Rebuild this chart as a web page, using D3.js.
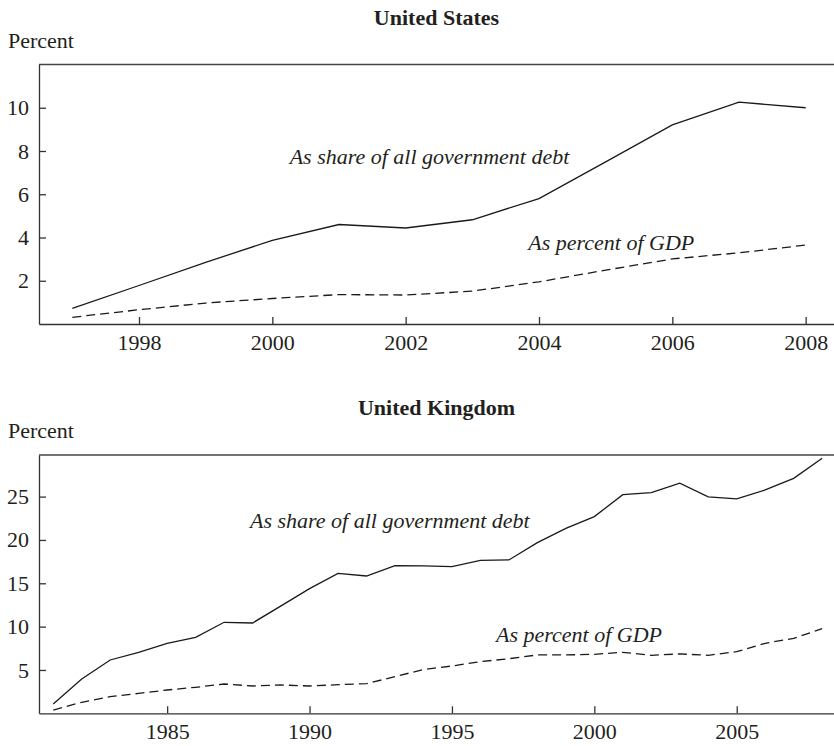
<!DOCTYPE html>
<html>
<head>
<meta charset="utf-8">
<script src="https://cdn.jsdelivr.net/npm/d3@7"></script>
<style>
  body { margin: 0; background: #fff; }
  svg { display: block; font-family: "Liberation Serif", "Times New Roman", serif; }
  .axis path, .axis line { stroke: #333; stroke-width: 1.3; }
  .axis text { font-size: 22px; fill: #231f20; font-family: "Liberation Serif", "Times New Roman", serif; }
</style>
</head>
<body>
<div id="chart"></div>
<script>
// United States, 1997-2008
const usYears = [1997, 1998, 1999, 2000, 2001, 2002, 2003, 2004, 2005, 2006, 2007, 2008];
const usShare = [0.72, 1.78, 2.85, 3.87, 4.6, 4.44, 4.82, 5.8, 7.5, 9.21, 10.26, 10.0];
const usGdp   = [0.31, 0.66, 0.97, 1.18, 1.36, 1.34, 1.52, 1.95, 2.49, 3.01, 3.29, 3.65];
const usXTicks = [1998, 2000, 2002, 2004, 2006, 2008];
const usYTicks = [2, 4, 6, 8, 10];

// United Kingdom, 1981-2008
const ukYears = d3.range(1981, 2009);
const ukShare = [1.07, 3.96, 6.15, 7.04, 8.08, 8.77, 10.5, 10.42, 12.4, 14.38, 16.15, 15.84,
                 17.03, 17.0, 16.92, 17.65, 17.69, 19.69, 21.34, 22.69, 25.23, 25.46, 26.54,
                 24.96, 24.73, 25.77, 27.11, 29.42];
const ukGdp   = [0.38, 1.27, 1.92, 2.3, 2.69, 3.0, 3.38, 3.15, 3.27, 3.15, 3.3, 3.42,
                 4.23, 5.05, 5.46, 5.96, 6.3, 6.73, 6.73, 6.8, 7.04, 6.69, 6.85,
                 6.69, 7.11, 8.08, 8.65, 9.76];
const ukXTicks = [1985, 1990, 1995, 2000, 2005];
const ukYTicks = [5, 10, 15, 20, 25];

const seriesNames = ["As share of all government debt", "As percent of GDP"];

const width = 834, height = 746;

const svg = d3.select("#chart")
  .append("svg")
    .attr("width", width)
    .attr("height", height);

function drawPanel(opts) {
  const x = d3.scaleLinear().domain(opts.xDomain).range([39, opts.xRight]);
  const y = d3.scaleLinear().domain(opts.yDomain).range([opts.bottom, opts.top]);

  const g = svg.append("g");

  g.append("text")
    .attr("x", (39 + width) / 2)
    .attr("y", opts.titleY)
    .attr("text-anchor", "middle")
    .style("font-size", "22px")
    .style("font-weight", "bold")
    .attr("fill", "#231f20")
    .text(opts.title);

  g.append("text")
    .attr("x", 8)
    .attr("y", opts.percentY)
    .style("font-size", "22px")
    .attr("fill", "#231f20")
    .text("Percent");

  // top frame line
  g.append("line")
    .attr("x1", 39).attr("x2", width)
    .attr("y1", opts.top).attr("y2", opts.top)
    .attr("stroke", "#444")
    .attr("stroke-width", 1.5);

  g.append("g")
    .attr("class", "axis")
    .attr("transform", `translate(39,0)`)
    .call(d3.axisLeft(y).tickValues(opts.yTicks).tickSizeInner(-7).tickSizeOuter(0).tickPadding(10));

  g.append("g")
    .attr("class", "axis")
    .attr("transform", `translate(0,${opts.bottom})`)
    .call(d3.axisBottom(x).tickValues(opts.xTicks).tickFormat(d3.format("d"))
      .tickSizeInner(-7).tickSizeOuter(0).tickPadding(10));

  const line = (vals) => d3.line()
    .x((d, i) => x(opts.years[i]))
    .y(d => y(d))(vals);

  g.append("path")
    .attr("d", line(opts.share))
    .attr("fill", "none")
    .attr("stroke", "#1a1a1a")
    .attr("stroke-width", 1.3);

  g.append("path")
    .attr("d", line(opts.gdp))
    .attr("fill", "none")
    .attr("stroke", "#1a1a1a")
    .attr("stroke-width", 1.3)
    .attr("stroke-dasharray", "9,5");

  opts.labels.forEach((p, i) => {
    g.append("text")
      .attr("x", x(p[0]))
      .attr("y", y(p[1]))
      .style("font-size", "22px")
      .style("font-style", "italic")
      .attr("fill", "#231f20")
      .text(seriesNames[i]);
  });
}

drawPanel({
  title: "United States", titleY: 25, percentY: 48,
  top: 64.5, bottom: 324, xRight: 839,
  xDomain: [1996.5, 2008.5], yDomain: [0, 12],
  xTicks: usXTicks, yTicks: usYTicks,
  years: usYears, share: usShare, gdp: usGdp,
  labels: [[2000.26, 7.42], [2003.84, 3.41]]
});

drawPanel({
  title: "United Kingdom", titleY: 415, percentY: 438,
  top: 455, bottom: 713.3, xRight: 836.4,
  xDomain: [1980.5, 2008.5], yDomain: [0, 29.8],
  xTicks: ukXTicks, yTicks: ukYTicks,
  years: ukYears, share: ukShare, gdp: ukGdp,
  labels: [[1987.91, 21.35], [1996.55, 8.26]]
});
</script>
</body>
</html>
